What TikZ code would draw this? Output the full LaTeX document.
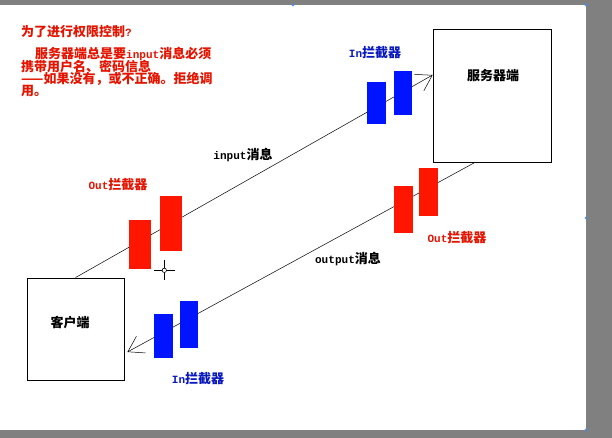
\documentclass[tikz,border=0pt]{standalone}
\usepackage{fontspec}
\setmainfont{Noto Sans CJK SC}
\newfontfamily\lat{Liberation Mono}[Scale=0.85]
\usetikzlibrary{arrows.meta}
\definecolor{ired}{RGB}{255,22,0}
\definecolor{iblue}{RGB}{0,20,255}
\definecolor{tred}{RGB}{228,20,0}
\definecolor{tblue}{RGB}{10,25,190}
\definecolor{bgray}{RGB}{128,128,128}
\definecolor{handle}{RGB}{60,140,255}
\begin{document}
\begin{tikzpicture}[x=1pt,y=-1pt,
  every node/.style={inner sep=0pt, font=\fontsize{13pt}{13pt}\selectfont\bfseries},
  box/.style={draw, line width=0.8pt, fill=white},
  redbar/.style={fill=ired, draw=none},
  bluebar/.style={fill=iblue, draw=none},
  msg/.style={line width=0.5pt, -{Straight Barb[length=15pt,width=19pt,line width=0.5pt]}},
  redtxt/.style={text=tred, anchor=west},
  bluetxt/.style={text=tblue},
  blacktxt/.style={text=black}
]
% background and canvas
\fill[bgray] (0,0) rectangle (612,438);
\fill[white] (0,5) rectangle (586,430);
\useasboundingbox (0,0) rectangle (612,438);
\foreach \p in {(293,5),(586,5),(586,218),(586,430)} \fill[handle] \p circle (1.3);

% boxes
\node[box, minimum width=97pt, minimum height=102pt] (client) at (75.5,329) {};
\node[box, minimum width=118pt, minimum height=133pt] (server) at (492,95.5) {};
\node[blacktxt] (clientlbl) at (70,323) {客户端};
\node[blacktxt] (serverlbl) at (493,76) {服务器端};

% message lines
\draw[msg] (client.north) -- ([yshift=20.5pt]server.west);
\draw[msg] ([xshift=-17pt]server.south) -- ([shift={(3pt,-23pt)}]client.east);

% interceptor bars
\node[redbar, minimum width=22pt, minimum height=49pt] (ol1) at (140,244.5) {};
\node[redbar, minimum width=22pt, minimum height=55pt] (ol2) at (171,223.5) {};
\node[bluebar, minimum width=19pt, minimum height=42pt] (it1) at (376.5,103) {};
\node[bluebar, minimum width=18pt, minimum height=44pt] (it2) at (403,93) {};
\node[redbar, minimum width=19pt, minimum height=47pt] (or1) at (403.5,209.5) {};
\node[redbar, minimum width=19pt, minimum height=48pt] (or2) at (428.5,192) {};
\node[bluebar, minimum width=19pt, minimum height=44pt] (ib1) at (163.5,336) {};
\node[bluebar, minimum width=18pt, minimum height=47pt] (ib2) at (189,324.5) {};

% labels
\node[bluetxt] (inlbltop) at (375,53) {{\lat In}拦截器};
\node[bluetxt] (inlblbot) at (198,379) {{\lat In}拦截器};
\node[text=tred] (outlblleft) at (118,185) {{\lat Out}拦截器};
\node[text=tred] (outlblright) at (457,238) {{\lat Out}拦截器};
\node[blacktxt] (inputlbl) at (243,155) {{\lat input}消息};
\node[blacktxt] (outputlbl) at (348,259) {{\lat output}消息};

% note text
\node[redtxt] (n1) at (21,32) {为了进行权限控制{\lat ?}};
\node[redtxt] (n2) at (35,54) {服务器端总是要{\lat input}消息必须};
\node[redtxt] (n3) at (21,67) {携带用户名、密码信息};
\node[redtxt] (n4) at (21,79) {——如果没有，或不正确。拒绝调};
\node[redtxt] (n5) at (21,91) {用。};

% mouse cursor
\coordinate (cur) at (164.3,270.3);
\draw[line width=0.8pt] ([xshift=-10pt]cur) -- ([xshift=11pt]cur);
\draw[line width=0.8pt] ([yshift=10pt]cur) -- ([yshift=-10pt]cur);
\draw[line width=0.6pt, fill=white] (cur) circle (2.2);
\end{tikzpicture}
\end{document}
